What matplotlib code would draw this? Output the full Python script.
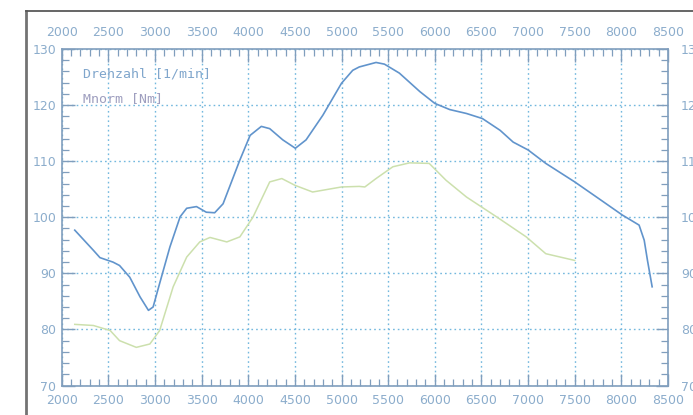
import numpy as np
import matplotlib
matplotlib.use("Agg")
import matplotlib.pyplot as plt
from matplotlib.ticker import MultipleLocator

# Curve data
rpm_blue = [2140, 2340, 2410, 2550, 2620, 2730, 2840, 2930, 2980, 3050, 3160,
            3270, 3340, 3445, 3550, 3640, 3730, 3910, 4020, 4140, 4230, 4370,
            4505, 4620, 4800, 5000, 5120, 5190, 5370, 5460, 5620, 5840, 6000,
            6160, 6340, 6510, 6700, 6840, 7000, 7190, 7500, 7760, 8010, 8190,
            8245, 8280, 8330]
torque_blue = [97.7, 94.1, 92.8, 92.0, 91.4, 89.3, 85.8, 83.4, 84.0, 88.2, 94.7,
               100.1, 101.6, 101.9, 100.9, 100.8, 102.4, 110.2, 114.6, 116.2, 115.8, 113.8,
               112.3, 113.8, 118.2, 123.9, 126.2, 126.8, 127.6, 127.3, 125.7, 122.4, 120.3,
               119.2, 118.5, 117.6, 115.5, 113.4, 112.0, 109.6, 106.3, 103.3, 100.4, 98.6,
               95.9, 92.3, 87.6]

rpm_green = [2140, 2340, 2520, 2620, 2800, 2945, 3050, 3195, 3340, 3480, 3590,
             3770, 3910, 4050, 4230, 4360, 4500, 4690, 5000, 5190, 5250, 5370,
             5550, 5730, 5940, 6120, 6340, 6660, 6980, 7190, 7500]
torque_green = [80.9, 80.7, 79.8, 78.0, 76.8, 77.4, 79.8, 87.6, 92.9, 95.6, 96.4,
                95.6, 96.5, 100.0, 106.3, 106.9, 105.7, 104.5, 105.4, 105.5, 105.4, 106.9,
                109.0, 109.7, 109.6, 106.6, 103.6, 100.1, 96.5, 93.5, 92.3]

legend_lines = ["Drehzahl [1/min]", "Mnorm [Nm]"]

X_MAJOR = np.arange(2000, 8501, 500)
Y_MAJOR = np.arange(70, 131, 10)

AXIS_COL = (0.50, 0.62, 0.74)
LABEL_COL = (0.55, 0.68, 0.80)
GRID_COL = (0.45, 0.72, 0.87)

W, H = 693, 415
fig = plt.figure(figsize=(W / 100, H / 100), dpi=100)
ax = fig.add_axes([61.7 / W, (H - 385.5) / H, (668 - 61.7) / W, (385.5 - 49) / H])

ax.plot(rpm_green, torque_green, color=(0.80, 0.88, 0.68), lw=1.1)
ax.plot(rpm_blue, torque_blue, color=(0.38, 0.58, 0.80), lw=1.2)

ax.set_xlim(2000, 8500)
ax.set_ylim(70, 130)
ax.set_xticks(X_MAJOR)
ax.set_yticks(Y_MAJOR)
ax.xaxis.set_minor_locator(MultipleLocator(100))
ax.yaxis.set_minor_locator(MultipleLocator(2))

ax.grid(which='major', color=GRID_COL, linestyle=(0, (1.2, 2.2)), lw=1.0)
ax.set_axisbelow(True)

for s in ax.spines.values():
    s.set_color(AXIS_COL)
    s.set_linewidth(1.2)

ax.tick_params(which='both', direction='in', top=True, right=True,
               labeltop=True, labelright=True, colors=AXIS_COL, labelcolor=LABEL_COL,
               labelsize=9)
ax.tick_params(which='major', length=9, width=1.0)
ax.tick_params(which='minor', length=5, width=0.9)
ax.tick_params(axis='both', which='major', pad=4)

# top labels sit higher, bottom a bit lower, right labels further out
# (cut by the figure edge like the scan)
for t in ax.xaxis.get_major_ticks():
    t.label2.set_y(1.012)
    t.label1.set_y(-0.008)
for t in ax.yaxis.get_major_ticks():
    t.label2.set_x(1.012)

# legend text in the top-left corner
ax.text(0.035, 0.925, legend_lines[0], transform=ax.transAxes, family='DejaVu Sans Mono',
        fontsize=9.5, color=(0.50, 0.65, 0.80), va='center', ha='left')
ax.text(0.035, 0.852, legend_lines[1], transform=ax.transAxes, family='DejaVu Sans Mono',
        fontsize=9.5, color=(0.62, 0.62, 0.75), va='center', ha='left')

# scanned frame around the chart
fig.add_artist(plt.Line2D([26 / W, 26 / W], [0, (H - 11) / H], color='0.45', lw=2.0,
                          transform=fig.transFigure))
fig.add_artist(plt.Line2D([26 / W, 1], [(H - 11) / H, (H - 11) / H], color='0.35', lw=1.3,
                          transform=fig.transFigure))

fig.savefig("out.png", dpi=100)
